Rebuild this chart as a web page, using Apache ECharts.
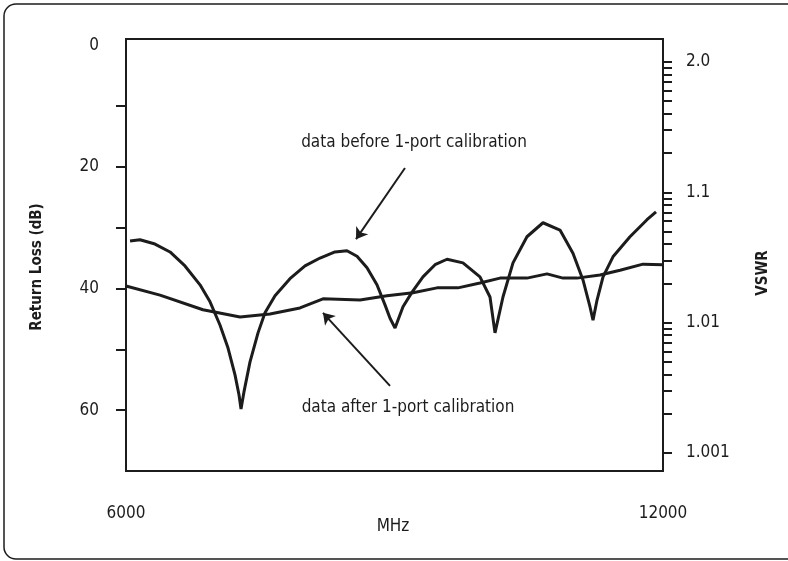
<!DOCTYPE html>
<html>
<head>
<meta charset="utf-8">
<script src="https://cdn.jsdelivr.net/npm/echarts@6/dist/echarts.min.js"></script>
<style>html,body{margin:0;padding:0;background:#fff;}#c{width:788px;height:561px;}</style>
</head>
<body>
<div id="c"></div>
<script>
// ---- data (MHz, return loss dB) ----
const freqBefore = [6045,6156,6324,6492,6659,6827,6939,7050,7140,7218,7263,7285,7318,7385,7475,7553,7665,7832,8000,8168,8335,8469,8581,8693,8804,8894,8950,9006,9095,9196,9318,9453,9587,9765,9955,10067,10123,10212,10324,10480,10659,10849,10994,11106,11184,11218,11263,11330,11441,11631,11821,11922];
const rlBefore   = [32.2,32.0,32.7,34.0,36.3,39.4,42.2,46.0,49.8,54.2,57.5,59.8,57.0,52.1,47.3,44.0,41.2,38.4,36.3,35.0,34.0,33.8,34.7,36.6,39.4,42.7,44.9,46.5,43.0,40.6,38.1,36.1,35.2,35.8,38.1,41.4,47.3,41.4,35.8,31.5,29.2,30.4,34.2,38.6,43.0,45.2,41.9,38.1,34.8,31.5,28.7,27.4];
const freqAfter  = [6000,6380,6860,7274,7609,7944,8201,8615,8916,9207,9475,9709,9955,10179,10480,10704,10883,11039,11296,11520,11777,12000];
const rlAfter    = [39.6,41.1,43.5,44.7,44.2,43.2,41.7,41.9,41.2,40.7,39.9,39.9,39.1,38.3,38.3,37.6,38.3,38.3,37.8,37.0,36.0,36.1];
const xTickLabels = [6000, 12000];
const rlLabelValues = [0, 20, 40, 60];
const rlTickValues = [10, 20, 30, 40, 50, 60];
const vswrLabelValues = [2.0, 1.1, 1.01, 1.001];
const vswrLabelTexts = ['2.0', '1.1', '1.01', '1.001'];
const vswrTickValues = [2.0,1.9,1.8,1.7,1.6,1.5,1.4,1.3,1.2,1.1,1.09,1.08,1.07,1.06,1.05,1.04,1.03,1.02,1.01,1.009,1.008,1.007,1.006,1.005,1.004,1.003,1.002,1.001];
const annBefore = 'data before 1-port calibration';
const annAfter = 'data after 1-port calibration';
const arrowBefore = [[9117, 20.2], [8570, 31.9]];
const arrowAfter = [[8950, 56.0], [8201, 44.0]];

const FONT = '"DejaVu Sans Condensed","Liberation Sans Narrow","Roboto Condensed","DejaVu Sans",sans-serif';
const INK = '#1c1c1c';
const vswrPos = v => -Math.log10(v - 1);

const chart = echarts.init(document.getElementById('c'), null, {renderer: 'canvas'});
const pair = (xs, ys) => xs.map((x, i) => [x, ys[i]]);

chart.setOption({
  animation: false,
  backgroundColor: '#fff',
  grid: {left: 126, right: 125, top: 39, bottom: 90, show: true, borderColor: INK, borderWidth: 2, backgroundColor: 'transparent'},
  xAxis: {
    type: 'value', min: 6000, max: 12000, interval: 6000,
    axisLine: {onZero: false, lineStyle: {color: INK, width: 2}},
    axisTick: {show: false},
    splitLine: {show: false},
    axisLabel: {color: INK, fontFamily: FONT, fontSize: 17, margin: 34, showMaxLabel: true, showMinLabel: true,
      customValues: xTickLabels, formatter: v => String(v)}
  },
  yAxis: [{
    type: 'value', inverse: true, min: -1, max: 70, position: 'left',
    axisLine: {show: true, onZero: false, lineStyle: {color: INK, width: 2}},
    axisTick: {show: true, length: 10, customValues: rlTickValues, lineStyle: {color: INK, width: 2}},
    splitLine: {show: false},
    axisLabel: {color: INK, fontFamily: FONT, fontSize: 17, margin: 27, customValues: rlLabelValues, formatter: v => String(v)}
  }, {
    type: 'value', inverse: true, min: -0.1765, max: 3.139, position: 'right', alignTicks: false,
    axisLine: {show: true, onZero: false, lineStyle: {color: INK, width: 2}},
    axisTick: {show: true, length: 9, customValues: vswrTickValues.map(vswrPos), lineStyle: {color: INK, width: 2}},
    splitLine: {show: false},
    axisLabel: {color: INK, fontFamily: FONT, fontSize: 17, margin: 23, customValues: vswrLabelValues.map(vswrPos),
      formatter: v => {
        const i = vswrLabelValues.findIndex(l => Math.abs(vswrPos(l) - v) < 1e-6);
        return i >= 0 ? vswrLabelTexts[i] : '';
      }}
  }],
  series: [{
    name: 'before', type: 'line', yAxisIndex: 0, data: pair(freqBefore, rlBefore),
    showSymbol: false, symbol: 'none', lineStyle: {color: INK, width: 3}, z: 3,
    markLine: {
      silent: true, symbol: ['none', 'arrow'], symbolSize: 11,
      lineStyle: {color: INK, width: 2, type: 'solid'}, label: {show: false},
      data: [
        [{coord: arrowBefore[0]}, {coord: arrowBefore[1]}],
        [{coord: arrowAfter[0]}, {coord: arrowAfter[1]}]
      ]
    }
  }, {
    name: 'after', type: 'line', yAxisIndex: 0, data: pair(freqAfter, rlAfter),
    showSymbol: false, symbol: 'none', lineStyle: {color: INK, width: 3}, z: 3
  }],
  graphic: [
    {type: 'rect', shape: {x: 4, y: 4, width: 830, height: 555, r: 12}, style: {fill: 'none', stroke: INK, lineWidth: 1.5}, silent: true},
    {type: 'text', x: 414, y: 143, style: {text: annBefore, fontFamily: FONT, fontSize: 17, fill: INK, align: 'center', verticalAlign: 'middle'}},
    {type: 'text', x: 408, y: 408, style: {text: annAfter, fontFamily: FONT, fontSize: 17, fill: INK, align: 'center', verticalAlign: 'middle'}},
    {type: 'text', x: 393, y: 527, style: {text: 'MHz', fontFamily: FONT, fontSize: 17, fill: INK, align: 'center', verticalAlign: 'middle'}},
    {type: 'text', x: 37, y: 267, rotation: Math.PI / 2, style: {text: 'Return Loss (dB)', fontFamily: FONT, fontSize: 15, fontWeight: 'bold', fill: INK, align: 'center', verticalAlign: 'middle'}},
    {type: 'text', x: 763, y: 273, rotation: Math.PI / 2, style: {text: 'VSWR', fontFamily: FONT, fontSize: 15, fontWeight: 'bold', fill: INK, align: 'center', verticalAlign: 'middle'}}
  ]
});
</script>
</body>
</html>
